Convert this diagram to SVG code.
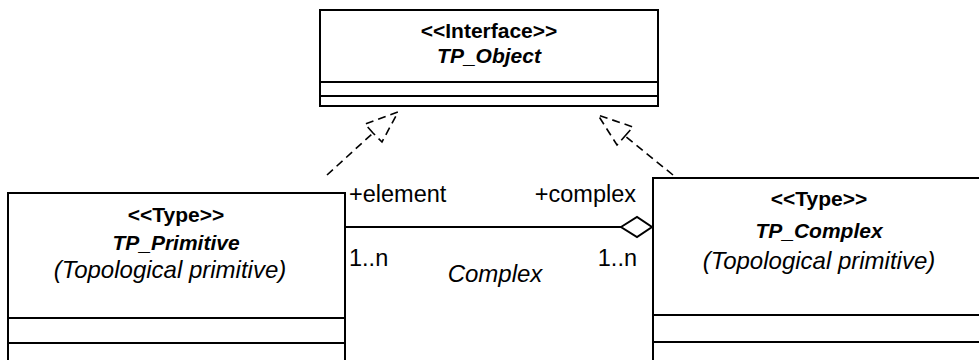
<svg xmlns="http://www.w3.org/2000/svg" width="979" height="360" viewBox="0 0 979 360">
<style>
.box{fill:#fff;stroke:#000;stroke-width:2}
.div{stroke:#000;stroke-width:2}
.b{font-family:"Liberation Sans",Arial,sans-serif;font-size:21px;font-weight:bold;text-anchor:middle}
.bi{font-family:"Liberation Sans",Arial,sans-serif;font-size:21px;font-weight:bold;font-style:italic;text-anchor:middle}
.i{font-family:"Liberation Sans",Arial,sans-serif;font-size:24px;font-style:italic;text-anchor:middle}
.t{font-family:"Liberation Sans",Arial,sans-serif;font-size:23.5px}
.dash{fill:none;stroke:#000;stroke-width:1.6;stroke-dasharray:8 5}
.line{fill:none;stroke:#000;stroke-width:2}
</style>
<rect width="979" height="360" fill="#fff"/>
<g id="connectors">
<path class="dash" d="M327,175 L373,133"/>
<path class="dash" d="M373,133 L365,124 L398,112 L382,142 Z"/>
<path class="dash" d="M673,175 L625,136"/>
<path class="dash" d="M625,136 L633,127 L598,115 L617,145 Z"/>
<path class="line" d="M345,227 L621,227"/>
<path class="line" d="M621,227 L637,217 L652,227 L637,237 Z" fill="#fff"/>
<text class="t" x="349" y="202">+element</text>
<text class="t" x="636" y="202" text-anchor="end">+complex</text>
<text class="t" x="349" y="266">1..n</text>
<text class="t" x="637" y="266" text-anchor="end">1..n</text>
<text class="i" x="495" y="282">Complex</text>
</g>
<g id="TP_Object">
<rect class="box" x="320" y="10" width="338" height="96"/>
<line class="div" x1="320" y1="82" x2="658" y2="82"/>
<line class="div" x1="320" y1="96" x2="658" y2="96"/>
<text class="b" x="489" y="38">&lt;&lt;Interface&gt;&gt;</text>
<text class="bi" x="489" y="63">TP_Object</text>
</g>
<g id="TP_Primitive">
<rect class="box" x="8" y="193" width="337" height="180"/>
<line class="div" x1="8" y1="318" x2="345" y2="318"/>
<line class="div" x1="8" y1="343" x2="345" y2="343"/>
<text class="b" x="176" y="222">&lt;&lt;Type&gt;&gt;</text>
<text class="bi" x="176" y="250">TP_Primitive</text>
<text class="i" x="170" y="278">(Topological primitive)</text>
</g>
<g id="TP_Complex">
<rect class="box" x="653" y="178" width="340" height="195"/>
<line class="div" x1="653" y1="315" x2="979" y2="315"/>
<line class="div" x1="653" y1="342" x2="979" y2="342"/>
<text class="b" x="819" y="206">&lt;&lt;Type&gt;&gt;</text>
<text class="bi" x="819" y="238">TP_Complex</text>
<text class="i" x="819" y="269">(Topological primitive)</text>
</g>
</svg>
